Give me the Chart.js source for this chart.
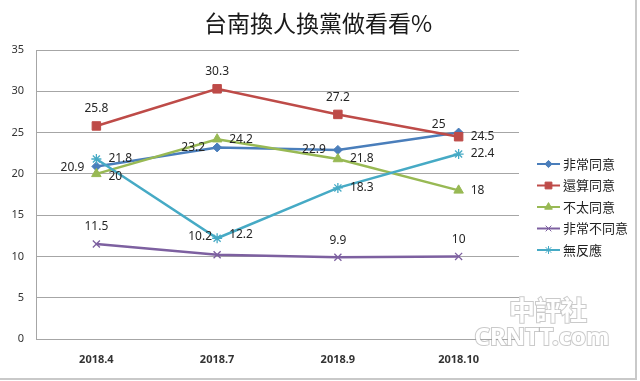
<!DOCTYPE html>
<html><head><meta charset="utf-8">
<script src="https://cdn.jsdelivr.net/npm/chart.js@4.4.1/dist/chart.umd.min.js"></script>
<style>html,body{margin:0;padding:0;background:#fff;}#wrap{width:640px;height:381px;position:relative}</style>
</head><body><div id="wrap"><canvas id="c" width="640" height="381"></canvas></div>
<script>
const categories = ['2018.4', '2018.7', '2018.9', '2018.10'];
const seriesNames = ['非常同意', '還算同意', '不太同意', '非常不同意', '無反應'];
const veryAgree = [20.9, 23.2, 22.9, 25];
const somewhatAgree = [25.8, 30.3, 27.2, 24.5];
const notReallyAgree = [20, 24.2, 21.8, 18];
const stronglyDisagree = [11.5, 10.2, 9.9, 10];
const noResponse = [21.8, 12.2, 18.3, 22.4];
const yMin = 0, yMax = 35, yStep = 5;
const chartTitle = '台南換人換黨做看看%';

const colors = ['#4A7EBB', '#BE4B48', '#98B954', '#7D60A0', '#46AAC5'];
const markers = ['rectRot', 'rect', 'triangle', 'crossRot', 'star'];
const markerRadius = [4.5, 6, 5.5, 5, 5];
// label placement codes per point
const anchorMap = {
  A: [0, -17, 'center'], L: [-12, 0, 'right'], R: [12, 0, 'left'],
  Ld: [-12, 1, 'right'], Rd: [12, 3, 'left'], Ru: [12, -4, 'left'],
  AL: [-20, -8, 'center'], AL2: [-17, -18, 'center']
};
const labelAnchors = [
  ['Ld', 'L', 'L', 'AL'],
  ['A', 'A', 'A', 'R'],
  ['Rd', 'R', 'R', 'R'],
  ['A', 'AL2', 'A', 'A'],
  ['R', 'Ru', 'R', 'R']
];
const seriesData = [veryAgree, somewhatAgree, notReallyAgree, stronglyDisagree, noResponse];

const CJK = "'Noto Sans CJK TC', 'Noto Sans', sans-serif";
const NUM = "'Noto Sans', 'DejaVu Sans', sans-serif";

const datasets = seriesData.map((d, i) => ({
  label: seriesNames[i],
  data: d,
  borderColor: colors[i],
  backgroundColor: colors[i],
  pointBackgroundColor: colors[i],
  pointBorderColor: colors[i],
  pointStyle: markers[i],
  pointRadius: markerRadius[i],
  pointBorderWidth: (i >= 3) ? 1.3 : 1,
  borderWidth: 2.5,
  tension: 0,
  order: 5 - i,
  labelAnchors: labelAnchors[i]
}));

const extrasPlugin = {
  id: 'extras',
  beforeDraw(chart) {
    const ctx = chart.ctx;
    ctx.save();
    ctx.fillStyle = '#fff';
    ctx.fillRect(0, 0, chart.width, chart.height);
    ctx.restore();
  },
  afterDatasetsDraw(chart) {
    const ctx = chart.ctx;
    ctx.save();
    ctx.font = '12px ' + NUM;
    ctx.fillStyle = '#262626';
    ctx.textBaseline = 'middle';
    chart.data.datasets.forEach((ds, di) => {
      const meta = chart.getDatasetMeta(di);
      meta.data.forEach((pt, pi) => {
        const a = anchorMap[ds.labelAnchors[pi]];
        ctx.textAlign = a[2];
        ctx.fillText(String(ds.data[pi]), pt.x + a[0], pt.y + a[1]);
      });
    });
    ctx.restore();
  },
  afterDraw(chart) {
    const ctx = chart.ctx;
    const area = chart.chartArea;
    ctx.save();
    // title
    ctx.font = '23px ' + CJK;
    ctx.fillStyle = '#1a1a1a';
    ctx.textAlign = 'center';
    ctx.textBaseline = 'middle';
    ctx.fillText(chartTitle, 318, 23);
    // legend
    const lx = area.right + 18;
    const ly0 = 164, lstep = 21.5;
    chart.data.datasets.forEach((ds, i) => {
      const y = ly0 + i * lstep;
      ctx.strokeStyle = ds.borderColor;
      ctx.lineWidth = 2;
      ctx.beginPath();
      ctx.moveTo(lx, y); ctx.lineTo(lx + 23, y); ctx.stroke();
      ctx.fillStyle = ds.borderColor;
      ctx.strokeStyle = ds.borderColor;
      ctx.lineWidth = 1;
      Chart.helpers.drawPoint(ctx, {pointStyle: ds.pointStyle, radius: ds.pointRadius * 0.8, borderWidth: 1, rotation: 0}, lx + 11.5, y);
      ctx.font = '13px ' + CJK;
      ctx.fillStyle = '#1f1f1f';
      ctx.textAlign = 'left';
      ctx.textBaseline = 'middle';
      ctx.fillText(ds.label, lx + 26, y);
    });
    // watermark
    ctx.font = 'bold 26px ' + CJK;
    ctx.textAlign = 'center';
    ctx.lineWidth = 2;
    ctx.strokeStyle = 'rgba(150,150,150,0.5)';
    ctx.fillStyle = '#ffffff';
    ctx.strokeText('中評社', 548, 310);
    ctx.fillText('中評社', 548, 310);
    ctx.font = 'bold 24px ' + NUM;
    ctx.strokeText('CRNTT.com', 542, 338);
    ctx.fillText('CRNTT.com', 542, 338);
    // frame
    ctx.strokeStyle = '#c9c9c9';
    ctx.lineWidth = 2;
    ctx.beginPath();
    ctx.moveTo(636, 0); ctx.lineTo(636, 379); ctx.lineTo(0, 379);
    ctx.stroke();
    ctx.restore();
  }
};

new Chart(document.getElementById('c'), {
  type: 'line',
  data: { labels: categories, datasets },
  options: {
    responsive: false,
    animation: false,
    devicePixelRatio: 1,
    layout: { padding: { left: 6, right: 121, top: 50, bottom: 0 } },
    plugins: { legend: { display: false }, title: { display: false }, tooltip: { enabled: false } },
    scales: {
      x: {
        type: 'category',
        offset: true,
        grid: { display: false, drawTicks: false },
        border: { display: true, color: '#a6a6a6', width: 1 },
        ticks: { padding: 14, color: '#333', font: { family: NUM, size: 11, weight: 'bold' }, maxRotation: 0 },
        afterFit(s) { s.height = 42; }
      },
      y: {
        min: yMin, max: yMax,
        ticks: { stepSize: yStep, padding: 12, color: '#333', font: { family: NUM, size: 11 } },
        grid: { color: '#a6a6a6', lineWidth: 1, drawTicks: false },
        border: { display: true, color: '#a6a6a6', width: 1 },
        afterFit(s) { s.width = 30; }
      }
    }
  },
  plugins: [extrasPlugin]
});
</script>
</body></html>
